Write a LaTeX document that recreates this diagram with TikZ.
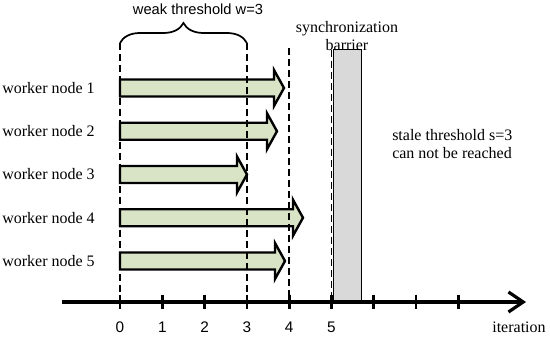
\documentclass[tikz,border=0pt]{standalone}
\usepackage{fontspec}
\setmainfont{Liberation Serif}
\newfontfamily\labelsans{Liberation Sans}
\usepackage{xcolor}
\usetikzlibrary{arrows.meta,decorations.pathreplacing}
\definecolor{wkGreen}{RGB}{217,228,199}
\definecolor{wkGray}{RGB}{217,217,217}

\begin{document}
\begin{tikzpicture}[
  x=0.75pt, y=-0.75pt,
  wlabel/.style={anchor=east, inner sep=0pt, font=\fontsize{12}{12}\selectfont},
  warrow/.style={draw=black, line width=1.8pt, fill=wkGreen, line join=miter},
  dline/.style={line width=1.4pt, dash pattern=on 5.25pt off 3pt},
  axis/.style={line width=2.6pt, -{Straight Barb[length=11pt,width=15pt,line width=2.4pt]}},
  tickmark/.style={line width=2pt},
  ticklabel/.style={font=\labelsans\fontsize{11.5}{11.5}\selectfont, inner sep=0pt},
  note/.style={font=\fontsize{12}{12.8}\selectfont, inner sep=0pt},
]
\useasboundingbox (0,0) rectangle (550,338);

%% Time axis
\coordinate (ax0) at (62,302);
\coordinate (ax1) at (526,302);
\foreach \i in {0,...,8}{
  \coordinate (t\i) at ({120+42.3*\i},302);
}

%% Workers and their progress
\foreach \n/\tip in {1/284, 2/277, 3/247, 4/303, 5/285}{
  \pgfmathsetmacro{\yy}{88+43.25*(\n-1)}
  \node[wlabel] (w\n) at (95,\yy) {worker node \n};
  \draw[warrow] (120,\yy-8.5) -- (\tip-10,\yy-8.5) -- (\tip-10,\yy-18)
    -- (\tip,\yy) -- (\tip-10,\yy+18) -- (\tip-10,\yy+8.5)
    -- (120,\yy+8.5) -- cycle;
}

%% Synchronization barrier
\node[draw=black, line width=1pt, fill=wkGray, inner sep=0pt, anchor=south west,
  minimum width=28*0.75pt, minimum height=252*0.75pt] (bar) at (333,302) {};
\node[note, align=center] (sync) at (347,36) {synchronization\\barrier};

%% Dashed markers
\draw[dline] (t0 |- 0,43) -- (t0);
\draw[dline] (t3 |- 0,43) -- (t3);
\draw[dline] (t4 |- 0,48) -- (t4);
\draw[dline] (t5 |- 0,50) -- (t5);

%% Weak threshold
\draw[line width=1.3pt, decorate, decoration={brace, amplitude=15pt}]
  (t0 |- 0,43) -- (t3 |- 0,43);
\node[font=\labelsans\fontsize{11}{11}\selectfont, inner sep=0pt] (weak) at (198,9) {weak threshold w=3};

%% Stale threshold
\node[note, align=left, anchor=west] (stale) at (392,144) {stale threshold s=3\\can not be reached};

%% Axis, ticks and labels
\draw[axis] (ax0) -- (ax1);
\foreach \i in {0,...,8}{
  \draw[tickmark] ([yshift=5.5pt]t\i) -- ([yshift=-5.5pt]t\i);
}
\foreach \i in {0,...,5}{
  \node[ticklabel] (l\i) at ([yshift=-18.75pt]t\i) {\i};
}
\node[note] (iter) at (519,327) {iteration};
\end{tikzpicture}
\end{document}
